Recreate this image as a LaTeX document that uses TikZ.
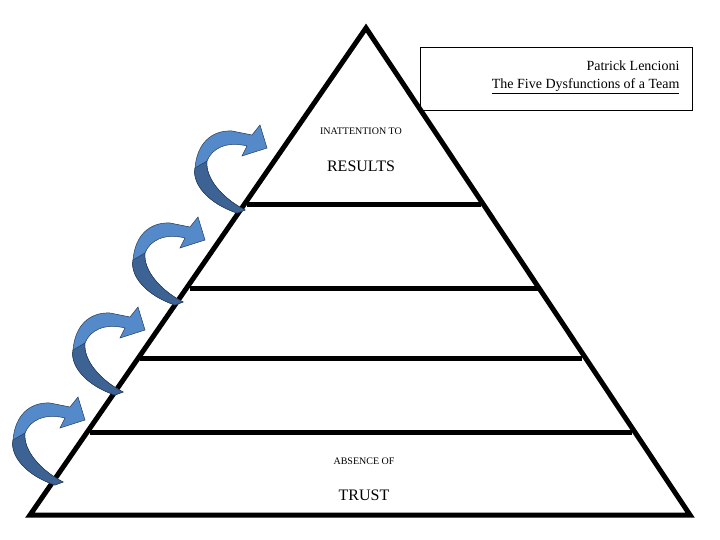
\documentclass[tikz,border=0pt]{standalone}
\usepackage{fontspec}
\setmainfont{Liberation Serif}
\usetikzlibrary{positioning}
\definecolor{ribbon}{RGB}{84,138,201}
\definecolor{ribbondark}{RGB}{60,99,148}
\definecolor{ribbonedge}{RGB}{40,60,90}
\tikzset{
  level/.style={draw=black,line width=5pt},
  twist/.pic={
    \fill[ribbon,draw=ribbonedge,line width=0.5pt] (0,0) .. controls (-30,-10) and (-45,-30) .. (-42,-45)
      .. controls (-40,-70) and (-25,-83) .. (-5,-82) -- (15,-78) -- (23,-88) -- (30,-65) -- (5,-57) -- (10,-67)
      .. controls (-10,-72) and (-25,-65) .. (-30,-52) .. controls (-32,-35) and (-15,-15) .. (8,-3) -- cycle;
    \fill[ribbondark,draw=ribbonedge,line width=0.5pt] (0,0) .. controls (-30,-10) and (-45,-30) .. (-42,-45)
      -- (-30,-52) .. controls (-32,-35) and (-15,-15) .. (8,-3) -- cycle;
  }
}
\begin{document}
\begin{tikzpicture}[x=1pt,y=-1pt]
\useasboundingbox (0,0) rectangle (720,540);
\coordinate (apex) at (366,28);
\coordinate (bl) at (30,515);
\coordinate (br) at (690,515);
\draw[level,line join=miter] (apex) -- (bl) -- (br) -- cycle;
\draw[level] (247,205) -- (481,205);
\draw[level] (190,288) -- (538,288);
\draw[level] (140,358) -- (582,358);
\draw[level] (90,432) -- (632,432);
% arrows up the side
\foreach \x/\y in {55/485,115/395,175/305,237/213}
  \pic at (\x,\y) {twist};
% author box
\node[draw,line width=0.6pt,minimum width=272pt,minimum height=63pt,anchor=north west] (book) at (420,47) {};
\node[anchor=east,font=\fontsize{14}{16}\selectfont,align=right] (author) at (683,66) {Patrick Lencioni};
\node[anchor=east,font=\fontsize{14}{16}\selectfont] (title) at (683,86) {\underline{The Five Dysfunctions of a Team}};
% level labels
\node[font=\fontsize{10}{12}\selectfont] (topsmall) at (361,131) {INATTENTION TO};
\node[font=\fontsize{16}{18}\selectfont] (topbig) at (361,166) {RESULTS};
\node[font=\fontsize{10}{12}\selectfont] (botsmall) at (364,461) {ABSENCE OF};
\node[font=\fontsize{16}{18}\selectfont] (botbig) at (364,495) {TRUST};
\end{tikzpicture}
\end{document}
